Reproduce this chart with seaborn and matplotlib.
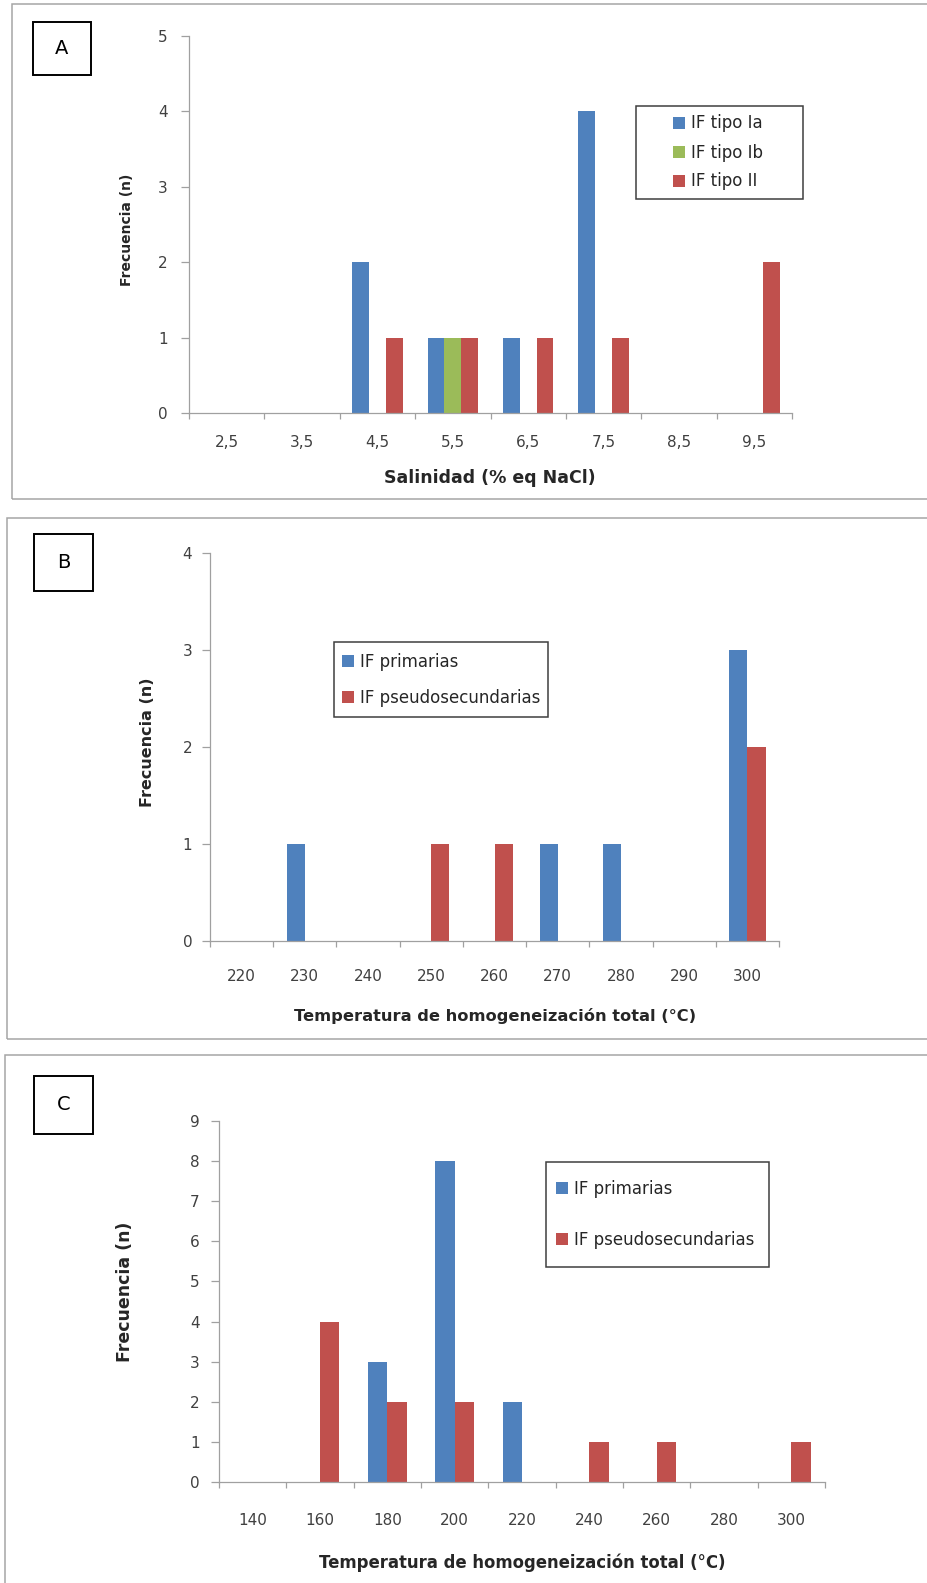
#  Histogramas de inclusiones fluidas (paneles A, B y C)
#  STEP 1: tools
import matplotlib
matplotlib.use("Agg")
import matplotlib.pyplot as plt
from matplotlib.patches import Rectangle
import seaborn as sns
import pandas as pd

#  STEP 2: data
# Panel A - salinidad
SAL_BINS = ["2,5", "3,5", "4,5", "5,5", "6,5", "7,5", "8,5", "9,5"]
SAL_IA   = [0, 0, 2, 1, 1, 4, 0, 0]
SAL_IB   = [0, 0, 0, 1, 0, 0, 0, 0]
SAL_II   = [0, 0, 1, 1, 1, 1, 0, 2]
SAL_NAMES = ["IF tipo Ia", "IF tipo Ib", "IF tipo II"]

# Panel B - temperatura de homogeneizacion
TB_BINS = ["220", "230", "240", "250", "260", "270", "280", "290", "300"]
TB_PRIM = [0, 1, 0, 0, 0, 1, 1, 0, 3]
TB_PSEU = [0, 0, 0, 1, 1, 0, 0, 0, 2]

# Panel C - temperatura de homogeneizacion
TC_BINS = ["140", "160", "180", "200", "220", "240", "260", "280", "300"]
TC_PRIM = [0, 0, 3, 8, 2, 0, 0, 0, 0]
TC_PSEU = [0, 4, 2, 2, 0, 1, 1, 0, 1]

TH_NAMES = ["IF primarias", "IF pseudosecundarias"]

#  STEP 3: style
BLUE  = "#4F81BD"
GREEN = "#9BBB59"
RED   = "#C0504D"
AXIS_GRAY  = "#a0a0a0"
FRAME_GRAY = "#a6a6a6"
TICK_TXT   = "#404040"

W, H = 927, 1583          # output size in pixels
sns.set_style("white")
plt.rcParams["font.family"] = ["DejaVu Sans"]


def fig_rect(x0, y0, x1, y1):
    # pixel box (top-left origin) -> figure fraction box
    return [x0 / W, 1 - y1 / H, (x1 - x0) / W, (y1 - y0) / H]


def fx(x):
    return x / W


def fy(y):
    return 1 - y / H


def long_df(bins, names, series):
    rows = []
    for name, vals in zip(names, series):
        for b, v in zip(bins, vals):
            rows.append({"bin": b, "serie": name, "n": v})
    return pd.DataFrame(rows)


fig = plt.figure(figsize=(W / 100, H / 100), dpi=100)
fig.patch.set_facecolor("white")


def draw_panel(letter, frame_box, letter_box, ax_box, df, bins, names, colors,
               ymax, width, ylab_xy, ylab_size, xlab, xlab_xy, xlab_size,
               xpad, ypad, leg_xy, leg_space, leg_box):
    # outer frame of the panel (right side runs off the page)
    x0, y0, x1, y1 = frame_box
    fig.add_artist(Rectangle((fx(x0), fy(y1)), (x1 - x0) / W, (y1 - y0) / H,
                             transform=fig.transFigure, fill=False,
                             edgecolor=FRAME_GRAY, linewidth=1.1))
    # letter box
    x0, y0, x1, y1 = letter_box
    fig.add_artist(Rectangle((fx(x0), fy(y1)), (x1 - x0) / W, (y1 - y0) / H,
                             transform=fig.transFigure, fill=False,
                             edgecolor="black", linewidth=1.4))
    fig.text(fx((x0 + x1) / 2), fy((y0 + y1) / 2), letter, ha="center",
             va="center", fontsize=14, color="black")

    ax = fig.add_axes(fig_rect(*ax_box))
    sns.barplot(data=df, x="bin", y="n", hue="serie", order=bins,
                hue_order=names, palette=colors, width=width, dodge=True,
                errorbar=None, saturation=1, linewidth=0, ax=ax)

    n = len(bins)
    ax.set_xlim(-0.5, n - 0.5)
    ax.set_ylim(0, ymax)
    ax.set(xlabel="", ylabel="")
    ax.set_yticks(range(ymax + 1))
    ax.set_xticks(range(n))
    ax.set_xticklabels(bins)
    ax.set_xticks([i - 0.5 for i in range(n + 1)], minor=True)
    ax.tick_params(axis="y", which="major", direction="out", length=5.5,
                   width=0.9, color=AXIS_GRAY, pad=ypad, labelsize=11,
                   labelcolor=TICK_TXT, left=True)
    ax.tick_params(axis="x", which="major", length=0, pad=xpad,
                   labelsize=11, labelcolor=TICK_TXT)
    ax.tick_params(axis="x", which="minor", direction="out", length=4,
                   width=0.9, color=AXIS_GRAY, bottom=True)
    for side in ["top", "right"]:
        ax.spines[side].set_visible(False)
    for side in ["left", "bottom"]:
        ax.spines[side].set_color(AXIS_GRAY)
        ax.spines[side].set_linewidth(0.9)
    ax.grid(False)

    # axis titles
    fig.text(fx(ylab_xy[0]), fy(ylab_xy[1]), "Frecuencia (n)", rotation=90,
             ha="center", va="center", fontsize=ylab_size, fontweight="bold")
    fig.text(fx(xlab_xy[0]), fy(xlab_xy[1]), xlab, ha="center", va="center",
             fontsize=xlab_size, fontweight="bold")

    # legend
    sns.move_legend(ax, "center left",
                    bbox_to_anchor=(fx(leg_xy[0]), fy(leg_xy[1])),
                    bbox_transform=fig.transFigure, frameon=False, title="",
                    fontsize=12, handlelength=0.72, handleheight=0.72,
                    handletextpad=0.35, labelspacing=leg_space,
                    borderpad=0, borderaxespad=0)
    x0, y0, x1, y1 = leg_box
    fig.add_artist(Rectangle((fx(x0), fy(y1)), (x1 - x0) / W, (y1 - y0) / H,
                             transform=fig.transFigure, fill=False,
                             edgecolor="#3f3f3f", linewidth=1.1))
    return ax


#  STEP 4: the three panels
df_a = long_df(SAL_BINS, SAL_NAMES, [SAL_IA, SAL_IB, SAL_II])
draw_panel("A", (12, 4, 960, 499), (33, 22, 91, 75), (189, 36, 792, 413),
           df_a, SAL_BINS, SAL_NAMES, [BLUE, GREEN, RED], 5, 0.67,
           (127, 230), 10, "Salinidad (% eq NaCl)", (490, 478), 12.5,
           15.8, 9.7, (673, 152.5), 0.66, (636, 106, 803, 199))

df_b = long_df(TB_BINS, TH_NAMES, [TB_PRIM, TB_PSEU])
draw_panel("B", (7, 518, 960, 1039), (34, 534, 93, 591), (210, 553, 779, 941),
           df_b, TB_BINS, TH_NAMES, [BLUE, RED], 4, 0.575,
           (148, 742), 11.5, "Temperatura de homogeneización total (°C)",
           (495, 1016), 11.7, 20, 7.3, (342, 680), 1.1, (334, 642, 548, 717))

df_c = long_df(TC_BINS, TH_NAMES, [TC_PRIM, TC_PSEU])
draw_panel("C", (5, 1055, 960, 1620), (34, 1076, 93, 1134), (219, 1121, 825, 1482),
           df_c, TC_BINS, TH_NAMES, [BLUE, RED], 9, 0.575,
           (125, 1292), 12.5, "Temperatura de homogeneización total (°C)",
           (522, 1563), 11.9, 22, 8.3, (556, 1214.5), 2.0, (546, 1162, 769, 1267))

#  STEP 5: save
fig.savefig("out.png", dpi=100, facecolor="white")
print("Chart saved as out.png")
